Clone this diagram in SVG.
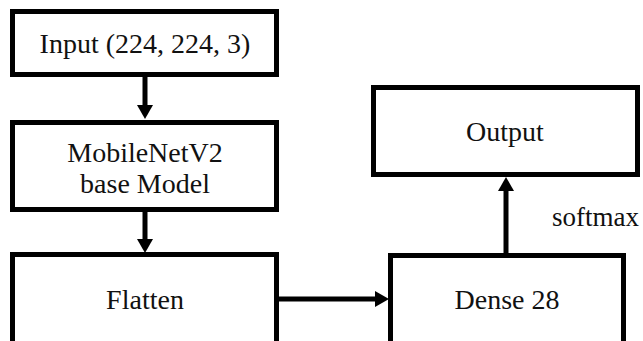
<svg xmlns="http://www.w3.org/2000/svg" width="643" height="341" viewBox="0 0 643 341">
<style>
.box{fill:#fff;stroke:#000;stroke-width:5}
.t{font-family:"Liberation Serif","Times New Roman",serif;font-size:28px;fill:#111;text-anchor:middle}
.c{stroke:#000;stroke-width:5;fill:none}
</style>
<defs>
<marker id="ah" markerWidth="6" markerHeight="6" refX="5" refY="3" orient="auto" markerUnits="userSpaceOnUse" viewBox="0 0 6 6">
<path d="M0,0 L6,3 L0,6 Z" fill="#000"/>
</marker>
</defs>
<rect width="643" height="341" fill="#fff"/>
<g id="input"><rect class="box" x="12.5" y="11.5" width="264" height="63"/><text class="t" x="145" y="53">Input (224, 224, 3)</text></g>
<g id="mobilenet"><rect class="box" x="12.5" y="122.5" width="264" height="87"/><text class="t" x="145" y="162">MobileNetV2</text><text class="t" x="145" y="193">base Model</text></g>
<g id="flatten"><rect class="box" x="12.5" y="254.5" width="264" height="100"/><text class="t" x="145" y="309">Flatten</text></g>
<g id="output"><rect class="box" x="373.5" y="87.5" width="264" height="87"/><text class="t" x="505" y="141">Output</text></g>
<g id="dense"><rect class="box" x="390.5" y="255.5" width="233" height="100"/><text class="t" x="507" y="309">Dense 28</text></g>
<g id="connectors">
<line class="c" x1="145" y1="77" x2="145" y2="106"/>
<path d="M137,105 L153,105 L145,119 Z" fill="#000"/>
<line class="c" x1="145" y1="212" x2="145" y2="240"/>
<path d="M137,239 L153,239 L145,253 Z" fill="#000"/>
<line class="c" x1="279" y1="299" x2="376" y2="299"/>
<path d="M375,291 L375,307 L389,299 Z" fill="#000"/>
<line class="c" x1="506" y1="253" x2="506" y2="190"/>
<path d="M498,191 L514,191 L506,177 Z" fill="#000"/>
<text x="552" y="226" style="font-family:'Liberation Serif','Times New Roman',serif;font-size:27px;fill:#111">softmax</text>
</g>
</svg>
